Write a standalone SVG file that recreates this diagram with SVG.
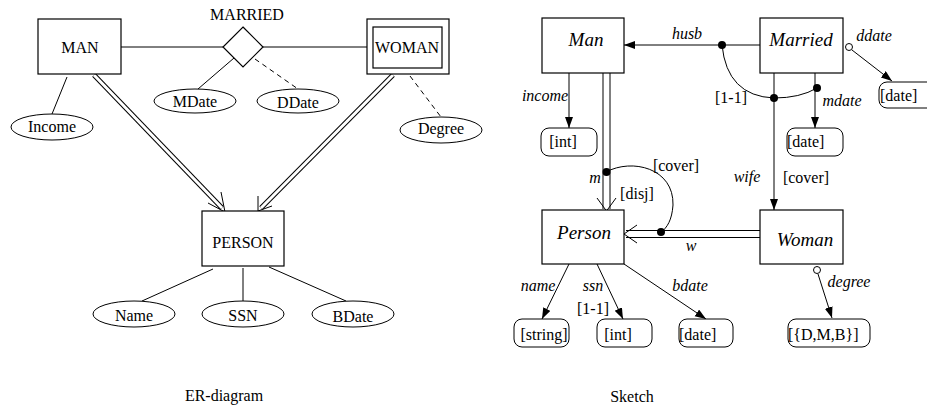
<svg xmlns="http://www.w3.org/2000/svg" width="927" height="407" viewBox="0 0 927 407">
<defs>
<style>
text{font-family:"Liberation Serif","Times New Roman",serif;font-size:16px;fill:#000}
.c{text-anchor:middle}
.i{font-style:italic}
.big{font-size:19px}
.ln{stroke:#000;stroke-width:1;fill:none}
.dash{stroke:#000;stroke-width:1;fill:none;stroke-dasharray:5,4}
.box{fill:#fff;stroke:#000;stroke-width:1.2}
.rbox{fill:#fff;stroke:#000;stroke-width:1}
.ell{fill:#fff;stroke:#000;stroke-width:1}
.dbl{stroke:#000;stroke-width:5;fill:none}
.dblw{stroke:#fff;stroke-width:3;fill:none}
.dbl2{stroke:#000;stroke-width:8;fill:none}
.dblw2{stroke:#fff;stroke-width:6;fill:none}
.dot{fill:#000}
.odot{fill:#fff;stroke:#000;stroke-width:1}
</style>
<marker id="ah" markerUnits="userSpaceOnUse" markerWidth="12" markerHeight="10" refX="11" refY="4" orient="auto">
<path d="M0,0 L11,4 L0,8 Z" fill="#000"/>
</marker>
</defs>
<rect width="927" height="407" fill="#fff"/>

<!-- ER diagram connectors -->
<g id="er-connectors">
<line class="ln" x1="121" y1="47" x2="223" y2="47"/>
<line class="ln" x1="263" y1="47" x2="367" y2="47"/>
<line class="ln" x1="234" y1="58" x2="198" y2="89"/>
<line class="dash" x1="255" y1="59" x2="298" y2="89"/>
<line class="ln" x1="67" y1="77" x2="52" y2="114"/>
<line class="dash" x1="410" y1="76" x2="441" y2="117"/>
<line class="ln" x1="213" y1="269" x2="142" y2="301"/>
<line class="ln" x1="243" y1="268" x2="243" y2="301"/>
<line class="ln" x1="269" y1="267" x2="346" y2="301"/>
<path class="dbl" d="M94,75 L222,208"/>
<path class="dblw" d="M94,75 L222,208"/>
<polyline class="ln" points="208,203 225,212 221,192"/>
<path class="dbl" d="M393,75 L261,208"/>
<path class="dblw" d="M393,75 L261,208"/>
<polyline class="ln" points="258,196 258,211 272,206"/>
</g>

<g id="MAN">
<rect class="box" x="38" y="19" width="83" height="55"/>
<text class="c" x="80" y="53">MAN</text>
</g>
<g id="MARRIED">
<polygon class="box" points="243,27 263,47 243,67 223,47"/>
<text class="c" x="247" y="20">MARRIED</text>
</g>
<g id="WOMAN">
<rect class="box" x="367" y="19" width="82" height="55"/>
<rect class="box" x="373" y="27" width="69" height="41"/>
<text class="c" x="407" y="53">WOMAN</text>
</g>
<g id="MDate">
<ellipse class="ell" cx="195" cy="101" rx="41" ry="12"/>
<text class="c" x="195" y="107">MDate</text>
</g>
<g id="DDate">
<ellipse class="ell" cx="298" cy="101" rx="41" ry="12"/>
<text class="c" x="298" y="108">DDate</text>
</g>
<g id="Income">
<ellipse class="ell" cx="52" cy="127" rx="41" ry="13"/>
<text class="c" x="52" y="132">Income</text>
</g>
<g id="Degree">
<ellipse class="ell" cx="441" cy="130" rx="41" ry="13"/>
<text class="c" x="441" y="134">Degree</text>
</g>
<g id="PERSON">
<rect class="box" x="202" y="211" width="82" height="55"/>
<text class="c" x="243" y="248">PERSON</text>
</g>
<g id="Name">
<ellipse class="ell" cx="134" cy="314" rx="41" ry="13"/>
<text class="c" x="134" y="321">Name</text>
</g>
<g id="SSN">
<ellipse class="ell" cx="243" cy="314" rx="41" ry="13"/>
<text class="c" x="243" y="321">SSN</text>
</g>
<g id="BDate">
<ellipse class="ell" cx="353" cy="314" rx="41" ry="13"/>
<text class="c" x="353" y="322">BDate</text>
</g>
<text class="c" x="224" y="401">ER-diagram</text>

<!-- Sketch connectors -->
<g id="sketch-connectors">
<line class="ln" x1="760" y1="45" x2="624" y2="45" marker-end="url(#ah)"/>
<path class="ln" d="M722,45 Q727,96 774,98 Q800,98 817,88"/>
<line class="ln" x1="569" y1="73" x2="569" y2="128" marker-end="url(#ah)"/>
<line class="ln" x1="815" y1="73" x2="815" y2="128" marker-end="url(#ah)"/>
<line class="ln" x1="774" y1="73" x2="774" y2="210" marker-end="url(#ah)"/>
<line class="ln" x1="852" y1="50" x2="892" y2="81" marker-end="url(#ah)"/>
<line class="ln" x1="569" y1="264" x2="542" y2="319" marker-end="url(#ah)"/>
<line class="ln" x1="597" y1="264" x2="623" y2="319" marker-end="url(#ah)"/>
<line class="ln" x1="624" y1="264" x2="706" y2="319" marker-end="url(#ah)"/>
<line class="ln" x1="818" y1="274" x2="832" y2="318" marker-end="url(#ah)"/>
<path class="dbl2" d="M606.5,73 V209"/>
<path class="dblw2" d="M606.5,73 V210"/>
<polyline class="ln" points="597,198 606.5,211 616,198"/>
<path class="dbl2" d="M760,234 H626"/>
<path class="dblw2" d="M761,234 H625"/>
<polyline class="ln" points="637,225 624,234 637,243"/>
<path class="ln" d="M606,172 C632,158 674,168 673,205 C672,220 667,228 661,232"/>
<circle class="dot" cx="722" cy="45" r="4"/>
<circle class="dot" cx="774" cy="98" r="4"/>
<circle class="dot" cx="817" cy="88" r="4"/>
<circle class="dot" cx="606.5" cy="172" r="4"/>
<circle class="dot" cx="661" cy="232" r="4"/>
<circle class="odot" cx="849" cy="47" r="3.5"/>
<circle class="odot" cx="817" cy="270" r="3.5"/>
<text class="c i" x="687" y="39">husb</text>
<text class="c" x="731" y="103">[1-1]</text>
<text class="c i" x="842" y="106">mdate</text>
<text class="c i" x="874" y="41">ddate</text>
<text class="c i" x="545" y="101">income</text>
<text class="c i" x="595" y="183">m</text>
<text class="c" x="676" y="171">[cover]</text>
<text class="c" x="637" y="199">[disj]</text>
<text class="c i" x="747" y="182">wife</text>
<text class="c" x="806" y="183">[cover]</text>
<text class="c i" x="691" y="251">w</text>
<text class="c i" x="538" y="291">name</text>
<text class="c i" x="593" y="291">ssn</text>
<text class="c" x="593" y="314">[1-1]</text>
<text class="c i" x="690" y="291">bdate</text>
<text class="c i" x="849" y="287">degree</text>
</g>

<g id="Man">
<rect class="box" x="542" y="18" width="82" height="55"/>
<text class="c i big" x="586" y="46">Man</text>
</g>
<g id="Married">
<rect class="box" x="760" y="18" width="83" height="55"/>
<text class="c i big" x="801" y="46">Married</text>
</g>
<g id="Person">
<rect class="box" x="542" y="210" width="82" height="54"/>
<text class="c i big" x="584" y="239">Person</text>
</g>
<g id="Woman">
<rect class="box" x="760" y="210" width="83" height="54"/>
<text class="c i big" x="805" y="246">Woman</text>
</g>
<g id="int-income">
<rect class="rbox" x="541" y="128" width="56" height="28" rx="8"/>
<text class="c" x="563" y="147">[int]</text>
</g>
<g id="date-mdate">
<rect class="rbox" x="787" y="128" width="56" height="28" rx="8"/>
<text x="787" y="147">[date]</text>
</g>
<g id="date-ddate">
<rect class="rbox" x="879" y="82" width="56" height="26" rx="8"/>
<text x="880" y="101">[date]</text>
</g>
<g id="string-name">
<rect class="rbox" x="514" y="319" width="55" height="28" rx="8"/>
<text class="c" x="544" y="340">[string]</text>
</g>
<g id="int-ssn">
<rect class="rbox" x="597" y="319" width="55" height="28" rx="8"/>
<text class="c" x="618" y="340">[int]</text>
</g>
<g id="date-bdate">
<rect class="rbox" x="679" y="319" width="54" height="28" rx="8"/>
<text x="679" y="340">[date]</text>
</g>
<g id="dmb-degree">
<rect class="rbox" x="788" y="319" width="82" height="28" rx="8"/>
<text x="788" y="340">[{D,M,B}]</text>
</g>
<text class="c" x="632" y="402">Sketch</text>
</svg>
